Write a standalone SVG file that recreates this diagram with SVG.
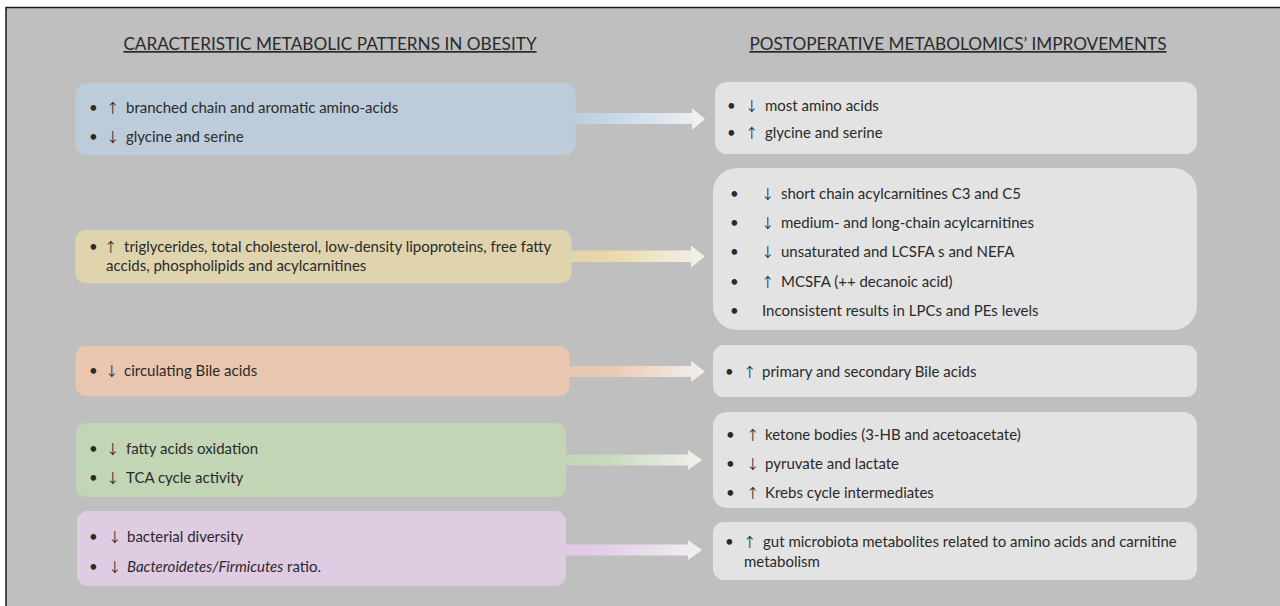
<svg xmlns="http://www.w3.org/2000/svg" width="1280" height="606" viewBox="0 0 1280 606">
<defs>
<style>
.t{font-family:Lato,"Liberation Sans",sans-serif;font-size:15px;fill:#2a2a2a}
.h{font-family:Lato,"Liberation Sans",sans-serif;font-size:17.2px;fill:#2a2a2a;text-decoration:underline}
.ar{font-family:"Noto Sans CJK JP","DejaVu Sans",sans-serif;font-size:13.5px}
.rb{fill:#e3e3e3}
</style>
<linearGradient id="gB" x1="0" y1="0" x2="1" y2="0"><stop offset="0" stop-color="#bdccdb"/><stop offset="0.3" stop-color="#c6d7e8"/><stop offset="1" stop-color="#f2f2f2"/></linearGradient>
<linearGradient id="gY" x1="0" y1="0" x2="1" y2="0"><stop offset="0" stop-color="#e0d4af"/><stop offset="0.3" stop-color="#ead9a6"/><stop offset="1" stop-color="#f4f2ee"/></linearGradient>
<linearGradient id="gO" x1="0" y1="0" x2="1" y2="0"><stop offset="0" stop-color="#e8c6b0"/><stop offset="0.3" stop-color="#ebc8b0"/><stop offset="1" stop-color="#f3f0ee"/></linearGradient>
<linearGradient id="gG" x1="0" y1="0" x2="1" y2="0"><stop offset="0" stop-color="#c2d6b6"/><stop offset="0.3" stop-color="#c6d9ba"/><stop offset="1" stop-color="#f0f2ef"/></linearGradient>
<linearGradient id="gP" x1="0" y1="0" x2="1" y2="0"><stop offset="0" stop-color="#dfcce3"/><stop offset="0.3" stop-color="#e2cfe6"/><stop offset="1" stop-color="#f2f0f2"/></linearGradient>
</defs>
<rect x="0" y="0" width="1280" height="606" fill="#ffffff"/>
<rect x="6" y="7.5" width="1280" height="610" fill="#bfbfbf" stroke="#1a1a1a" stroke-width="1.5"/>
<g id="titles">
<text class="h" x="330" y="50" text-anchor="middle">CARACTERISTIC METABOLIC PATTERNS IN OBESITY</text>
<text class="h" x="958" y="50" text-anchor="middle">POSTOPERATIVE METABOLOMICS’ IMPROVEMENTS</text>
</g>
<g id="connectors">
<path d="M570,113 H692 V108 L705,119 L692,130 V124 H570 Z" fill="url(#gB)"/>
<path d="M568,250.5 H691 V245.5 L705,256.5 L691,267.5 V262 H568 Z" fill="url(#gY)"/>
<path d="M566,366 H691 V361 L705,371.5 L691,382 V377 H566 Z" fill="url(#gO)"/>
<path d="M562,454.5 H688 V450 L702,460 L688,470 V465.5 H562 Z" fill="url(#gG)"/>
<path d="M562,544.5 H688 V540 L702,550 L688,560 V555.5 H562 Z" fill="url(#gP)"/>
</g>
<g id="obesity-amino">
<rect x="75.5" y="83" width="500" height="72" rx="11" fill="#bdccdb"/>
<text class="t" y="113"><tspan x="89">•</tspan><tspan class="ar" x="106">↑</tspan><tspan x="126">branched chain and aromatic amino-acids</tspan></text>
<text class="t" y="142"><tspan x="89">•</tspan><tspan class="ar" x="106">↓</tspan><tspan x="126">glycine and serine</tspan></text>
</g>
<g id="obesity-lipids">
<rect x="75.5" y="230" width="496" height="53" rx="10" fill="#e0d4af"/>
<text class="t" y="252"><tspan x="89">•</tspan><tspan class="ar" x="104">↑</tspan><tspan x="124">triglycerides, total cholesterol, low-density lipoproteins, free fatty</tspan></text>
<text class="t" x="106" y="271">accids, phospholipids and acylcarnitines</text>
</g>
<g id="obesity-bile">
<rect x="75.5" y="346" width="494" height="50" rx="10" fill="#e8c6b0"/>
<text class="t" y="376"><tspan x="89">•</tspan><tspan class="ar" x="105">↓</tspan><tspan x="124">circulating Bile acids</tspan></text>
</g>
<g id="obesity-oxidation">
<rect x="76" y="423" width="490" height="74" rx="11" fill="#c2d6b6"/>
<text class="t" y="454"><tspan x="89">•</tspan><tspan class="ar" x="106">↓</tspan><tspan x="126">fatty acids oxidation</tspan></text>
<text class="t" y="483"><tspan x="89">•</tspan><tspan class="ar" x="106">↓</tspan><tspan x="126">TCA cycle activity</tspan></text>
</g>
<g id="obesity-microbiota">
<rect x="77" y="511" width="489" height="75" rx="11" fill="#dfcce3"/>
<text class="t" y="542"><tspan x="89">•</tspan><tspan class="ar" x="108">↓</tspan><tspan x="127">bacterial diversity</tspan></text>
<text class="t" y="572"><tspan x="89">•</tspan><tspan class="ar" x="108">↓</tspan><tspan x="127" font-style="italic">Bacteroidetes/Firmicutes</tspan><tspan> ratio.</tspan></text>
</g>
<g id="post-amino">
<rect class="rb" x="715" y="82" width="482" height="72" rx="12"/>
<text class="t" y="111"><tspan x="727">•</tspan><tspan class="ar" x="745">↓</tspan><tspan x="765">most amino acids</tspan></text>
<text class="t" y="138"><tspan x="727">•</tspan><tspan class="ar" x="745">↑</tspan><tspan x="765">glycine and serine</tspan></text>
</g>
<g id="post-lipids">
<rect class="rb" x="713" y="168" width="484" height="162" rx="24"/>
<text class="t" y="199"><tspan x="730">•</tspan><tspan class="ar" x="761">↓</tspan><tspan x="781">short chain acylcarnitines C3 and C5</tspan></text>
<text class="t" y="228"><tspan x="730">•</tspan><tspan class="ar" x="761">↓</tspan><tspan x="781">medium- and long-chain acylcarnitines</tspan></text>
<text class="t" y="257"><tspan x="730">•</tspan><tspan class="ar" x="761">↓</tspan><tspan x="781">unsaturated and LCSFA s and NEFA</tspan></text>
<text class="t" y="287"><tspan x="730">•</tspan><tspan class="ar" x="761">↑</tspan><tspan x="781">MCSFA (++ decanoic acid)</tspan></text>
<text class="t" y="316"><tspan x="730">•</tspan><tspan x="762">Inconsistent results in LPCs and PEs levels</tspan></text>
</g>
<g id="post-bile">
<rect class="rb" x="713" y="345" width="484" height="52" rx="11"/>
<text class="t" y="377"><tspan x="725">•</tspan><tspan class="ar" x="743">↑</tspan><tspan x="762">primary and secondary Bile acids</tspan></text>
</g>
<g id="post-energy">
<rect class="rb" x="713" y="412" width="484" height="96" rx="14"/>
<text class="t" y="440"><tspan x="726">•</tspan><tspan class="ar" x="746">↑</tspan><tspan x="765">ketone bodies (3-HB and acetoacetate)</tspan></text>
<text class="t" y="469"><tspan x="726">•</tspan><tspan class="ar" x="746">↓</tspan><tspan x="765">pyruvate and lactate</tspan></text>
<text class="t" y="498"><tspan x="726">•</tspan><tspan class="ar" x="746">↑</tspan><tspan x="765">Krebs cycle intermediates</tspan></text>
</g>
<g id="post-microbiota">
<rect class="rb" x="713" y="522" width="484" height="58" rx="11"/>
<text class="t" y="547"><tspan x="725">•</tspan><tspan class="ar" x="743">↑</tspan><tspan x="763">gut microbiota metabolites related to amino acids and carnitine</tspan></text>
<text class="t" x="744" y="567">metabolism</text>
</g>
</svg>
